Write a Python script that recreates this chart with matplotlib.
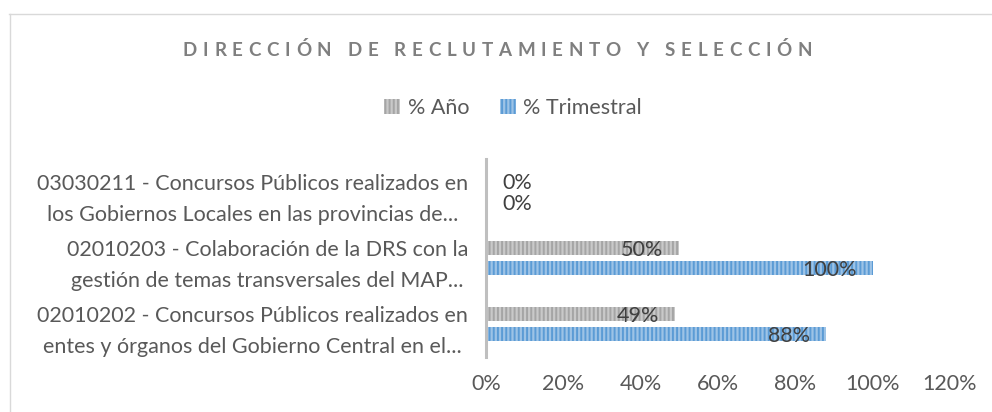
import matplotlib
matplotlib.use("Agg")
import matplotlib.pyplot as plt
from matplotlib.patches import Patch
from matplotlib.lines import Line2D
import numpy as np

plt.rcParams['font.family'] = ['Lato', 'DejaVu Sans']
plt.rcParams['hatch.linewidth'] = 1.4

# ---------------- data ----------------
title = "DIRECCIÓN DE RECLUTAMIENTO Y SELECCIÓN"
categories = [
    "02010202 - Concursos Públicos realizados en\nentes y órganos del Gobierno Central en el...",
    "02010203 - Colaboración de la DRS con la\ngestión de temas transversales del MAP...",
    "03030211 - Concursos Públicos realizados en\nlos Gobiernos Locales en las provincias de...",
]
series_names = ["% Año", "% Trimestral"]
pct_anio = [0.49, 0.50, 0.0]
pct_trim = [0.88, 1.00, 0.0]
xticks = [0, 0.2, 0.4, 0.6, 0.8, 1.0, 1.2]
xtick_labels = ["0%", "20%", "40%", "60%", "80%", "100%", "120%"]

W, H = 992, 412
FS = 15.5
fig = plt.figure(figsize=(W / 100, H / 100), dpi=100)

# chart border (top and left visible)
fig.add_artist(Line2D([9 / W, 1.0], [1 - 13.5 / H, 1 - 13.5 / H], color="#D9D9D9", lw=1.0))
fig.add_artist(Line2D([9.5 / W, 9.5 / W], [0, 1 - 13.5 / H], color="#D9D9D9", lw=1.0))

ax = fig.add_axes([486 / W, (H - 357) / H, 464 / W, 198 / H])

y = np.arange(len(categories))
off = 0.155
h = 0.205

gray_face, gray_hatch = "#C9C9C9", "#A5A5A5"
blue_face, blue_hatch = "#9DC3E6", "#5B9BD5"

ax.barh(y + off, pct_anio, height=h, color=gray_face, edgecolor="none", lw=0)
ax.barh(y + off, pct_anio, height=h, color="none", edgecolor=gray_hatch, lw=0, hatch="||||")
ax.barh(y - off, pct_trim, height=h, color=blue_face, edgecolor="none", lw=0)
ax.barh(y - off, pct_trim, height=h, color="none", edgecolor=blue_hatch, lw=0, hatch="||||")

ax.set_xlim(0, 1.2)
ax.set_ylim(-0.5, 2.5)
ax.set_xticks(xticks)
ax.set_xticklabels(xtick_labels, fontsize=FS, color="#595959")
ax.set_yticks(y)
ax.set_yticklabels(categories, fontsize=FS, color="#595959", multialignment="center",
                   linespacing=1.7)
ax.tick_params(axis="both", length=0)
ax.tick_params(axis="x", pad=12)
ax.tick_params(axis="y", pad=13)
for s in ["top", "right", "bottom"]:
    ax.spines[s].set_visible(False)
ax.spines["left"].set_color("#BFBFBF")
ax.spines["left"].set_linewidth(2.2)
ax.set_facecolor("none")

# data labels
for vals, dy in [(pct_anio, off), (pct_trim, -off)]:
    for yi, v in zip(y, vals):
        txt = f"{round(v * 100):d}%"
        if v == 0:
            ax.annotate(txt, (v, yi + dy), xytext=(11.5, -1), textcoords="offset points",
                        ha="left", va="center", fontsize=FS, color="#404040")
        else:
            ax.annotate(txt, (v, yi + dy), xytext=(-11.5, -1.5), textcoords="offset points",
                        ha="right", va="center", fontsize=FS, color="#404040")

# legend
handles = [
    Patch(facecolor=gray_face, edgecolor=gray_hatch, hatch="||||", lw=0, label=series_names[0]),
    Patch(facecolor=blue_face, edgecolor=blue_hatch, hatch="||||", lw=0, label=series_names[1]),
]
fig.legend(handles=handles, loc="center", bbox_to_anchor=(513 / W, 1 - 108 / H), ncol=2,
           frameon=False, handlelength=0.75, handleheight=0.75, handletextpad=0.35,
           columnspacing=1.4, prop={"size": FS}, labelcolor="#595959")

# tracked (letter-spaced) title
renderer = fig.canvas.get_renderer()
tkw = dict(fontsize=13.5, fontweight="bold", color="#7F7F7F")


def char_w(ch):
    if ch == " ":
        t1 = fig.text(0, 0, "a a", **tkw)
        t2 = fig.text(0, 0, "aa", **tkw)
        w = t1.get_window_extent(renderer).width - t2.get_window_extent(renderer).width
        t1.remove(); t2.remove()
        return w
    t = fig.text(0, 0, ch, **tkw)
    w = t.get_window_extent(renderer).width
    t.remove()
    return w


widths = [char_w(c) for c in title]
x0, x1 = 183, 812
spacing = (x1 - x0 - sum(widths)) / (len(title) - 1)
x = x0
ty = 1 - 49 / H
for c, w in zip(title, widths):
    if c != " ":
        fig.text(x / W, ty, c, ha="left", va="center_baseline", **tkw)
    x += w + spacing

fig.savefig("out.png", dpi=100)
